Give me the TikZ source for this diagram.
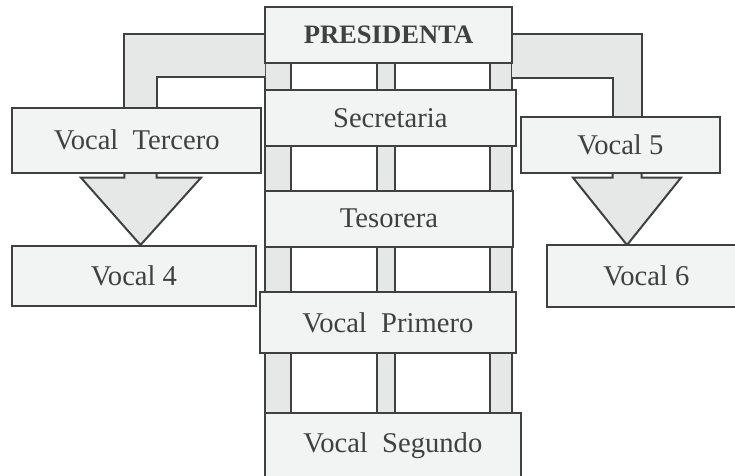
\documentclass[tikz,border=0pt]{standalone}
\usepackage{fontspec}
\setmainfont{Liberation Serif}
\usepackage{tikz}

\definecolor{caja}{HTML}{F2F3F3}
\definecolor{banda}{HTML}{E6E7E7}
\definecolor{linea}{HTML}{404040}

\begin{document}
\begin{tikzpicture}[
                x=0.5pt, y=-0.5pt,            % 1 unidad = 1 px
                puesto/.style={
                    rectangle,
                    draw=linea,
                    fill=caja,
                    text=linea,
                    line width=1pt,
                    inner sep=0pt,
                    font=\fontsize{14.3}{16}\selectfont
                },
                flecha/.style={draw=linea, fill=banda, line width=1pt, line join=miter},
                poste/.style={draw=linea, fill=banda, line width=1pt}
            ]
                \useasboundingbox (0,0) rectangle (735,476);

                % postes detras de la columna
                \foreach \xa/\xb in {265/291, 377/395, 490/512}
                    \draw[poste] (\xa,12) rectangle (\xb,413);

                % bandas y flechas
                \draw[flecha] (265,34.3) -- (124.3,34.3) -- (124.3,120) -- (156.7,120)
                    -- (156.7,77.3) -- (265,77.3);
                \draw[flecha] (512,34.3) -- (641.7,34.3) -- (641.7,125) -- (612.7,125)
                    -- (612.7,78.3) -- (512,78.3);
                \draw[flecha] (124.3,165) -- (124.3,177.7) -- (81,177.7) -- (140.5,245)
                    -- (201,177.7) -- (156.7,177.7) -- (156.7,165);
                \draw[flecha] (612.7,165) -- (612.7,177.7) -- (573,177.7) -- (627,245)
                    -- (681,177.7) -- (641.7,177.7) -- (641.7,165);

                % cajas
                \node[puesto, minimum width=123.5pt, minimum height=28pt,
                      font=\fontsize{13.3}{16}\selectfont\bfseries] (pres) at (388.5,35) {PRESIDENTA};
                \node[puesto, minimum width=125.4pt, minimum height=28pt] (sec) at (390.3,118) {Secretaria};
                \node[puesto, minimum width=124pt, minimum height=28pt] (tes) at (389,218.7) {Tesorera};
                \node[puesto, minimum width=127.9pt, minimum height=30.5pt] (prim) at (387.8,322.8) {Vocal~~Primero};
                \node[puesto, minimum width=127.9pt, minimum height=32.5pt] (seg) at (392.8,445.6) {Vocal~~Segundo};
                \node[puesto, minimum width=124.35pt, minimum height=32.5pt] (terc) at (136.7,140.2) {Vocal~~Tercero};
                \node[puesto, minimum width=122pt, minimum height=29.85pt] (v4) at (134,275.9) {Vocal 4};
                \node[puesto, minimum width=99.65pt, minimum height=28pt] (v5) at (620.3,144.7) {Vocal 5};
                \node[puesto, minimum width=99.65pt, minimum height=30.7pt] (v6) at (646.3,276) {Vocal 6};
            \end{tikzpicture}
\end{document}
